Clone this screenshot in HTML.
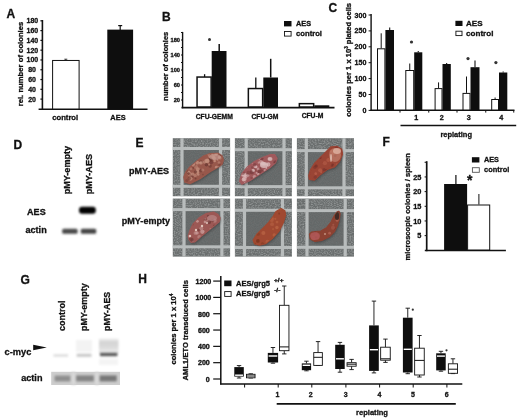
<!DOCTYPE html>
<html><head><meta charset="utf-8"><style>
html,body{margin:0;padding:0;background:#fff;width:520px;height:420px;overflow:hidden}
svg{will-change:transform;display:block;font-family:"Liberation Sans",sans-serif}
text{stroke:#111;stroke-width:0.3px;paint-order:stroke}
</style></head><body>
<svg width="520" height="420" viewBox="0 0 520 420">
<text x="6.60" y="18.40" font-size="12" text-anchor="start" font-weight="bold" fill="#111">A</text>
<text transform="translate(22.60,64.00) rotate(-90)" font-size="7.7" text-anchor="middle" font-weight="bold" fill="#111" textLength="84.60" lengthAdjust="spacingAndGlyphs">rel. number of colonies</text>
<text x="32.10" y="101.61" font-size="7.0" text-anchor="middle" font-weight="bold" fill="#111">20</text>
<line x1="40.40" y1="99.11" x2="42.40" y2="99.11" stroke="#111" stroke-width="1.2"/>
<text x="32.10" y="91.82" font-size="7.0" text-anchor="middle" font-weight="bold" fill="#111">40</text>
<line x1="40.40" y1="89.32" x2="42.40" y2="89.32" stroke="#111" stroke-width="1.2"/>
<text x="32.10" y="82.04" font-size="7.0" text-anchor="middle" font-weight="bold" fill="#111">60</text>
<line x1="40.40" y1="79.54" x2="42.40" y2="79.54" stroke="#111" stroke-width="1.2"/>
<text x="32.10" y="72.25" font-size="7.0" text-anchor="middle" font-weight="bold" fill="#111">80</text>
<line x1="40.40" y1="69.75" x2="42.40" y2="69.75" stroke="#111" stroke-width="1.2"/>
<text x="32.40" y="62.46" font-size="7.0" text-anchor="middle" font-weight="bold" fill="#111">100</text>
<line x1="40.40" y1="59.96" x2="42.40" y2="59.96" stroke="#111" stroke-width="1.2"/>
<text x="32.40" y="52.67" font-size="7.0" text-anchor="middle" font-weight="bold" fill="#111">120</text>
<line x1="40.40" y1="50.17" x2="42.40" y2="50.17" stroke="#111" stroke-width="1.2"/>
<text x="32.40" y="42.88" font-size="7.0" text-anchor="middle" font-weight="bold" fill="#111">140</text>
<line x1="40.40" y1="40.38" x2="42.40" y2="40.38" stroke="#111" stroke-width="1.2"/>
<text x="32.40" y="33.10" font-size="7.0" text-anchor="middle" font-weight="bold" fill="#111">160</text>
<line x1="40.40" y1="30.60" x2="42.40" y2="30.60" stroke="#111" stroke-width="1.2"/>
<text x="32.40" y="23.31" font-size="7.0" text-anchor="middle" font-weight="bold" fill="#111">180</text>
<line x1="40.40" y1="20.81" x2="42.40" y2="20.81" stroke="#111" stroke-width="1.2"/>
<line x1="42.40" y1="20.00" x2="42.40" y2="109.60" stroke="#111" stroke-width="1.6"/>
<line x1="38.60" y1="109.20" x2="147.50" y2="109.20" stroke="#111" stroke-width="1.6"/>
<rect x="52.60" y="60.46" width="26.50" height="48.54" fill="#fff" stroke="#111" stroke-width="1.0"/>
<line x1="65.80" y1="59.20" x2="65.80" y2="60.00" stroke="#111" stroke-width="0.8"/>
<line x1="64.30" y1="59.20" x2="67.30" y2="59.20" stroke="#111" stroke-width="0.8"/>
<rect x="107.30" y="29.62" width="25.80" height="79.38" fill="#0e0e0e"/>
<line x1="120.20" y1="25.60" x2="120.20" y2="30.00" stroke="#111" stroke-width="1.2"/>
<line x1="118.20" y1="25.60" x2="122.20" y2="25.60" stroke="#111" stroke-width="1.2"/>
<text x="65.20" y="120.20" font-size="7.7" text-anchor="middle" font-weight="bold" fill="#111" textLength="26.00" lengthAdjust="spacingAndGlyphs">control</text>
<text x="118.00" y="120.20" font-size="7.7" text-anchor="middle" font-weight="bold" fill="#111" textLength="15.30" lengthAdjust="spacingAndGlyphs">AES</text>
<text x="162.05" y="20.80" font-size="12" text-anchor="start" font-weight="bold" fill="#111">B</text>
<text transform="translate(168.00,66.25) rotate(-90)" font-size="7.47" text-anchor="middle" font-weight="bold" fill="#111" textLength="68.90" lengthAdjust="spacingAndGlyphs">number of colonies</text>
<text x="180.00" y="102.00" font-size="5.7" text-anchor="end" font-weight="bold" fill="#111">20</text>
<line x1="181.00" y1="100.00" x2="182.60" y2="100.00" stroke="#111" stroke-width="1.0"/>
<line x1="181.00" y1="92.50" x2="182.60" y2="92.50" stroke="#111" stroke-width="1.0"/>
<text x="180.00" y="87.00" font-size="5.7" text-anchor="end" font-weight="bold" fill="#111">60</text>
<line x1="181.00" y1="85.00" x2="182.60" y2="85.00" stroke="#111" stroke-width="1.0"/>
<line x1="181.00" y1="77.50" x2="182.60" y2="77.50" stroke="#111" stroke-width="1.0"/>
<text x="180.00" y="72.00" font-size="5.7" text-anchor="end" font-weight="bold" fill="#111">100</text>
<line x1="181.00" y1="70.00" x2="182.60" y2="70.00" stroke="#111" stroke-width="1.0"/>
<line x1="181.00" y1="62.50" x2="182.60" y2="62.50" stroke="#111" stroke-width="1.0"/>
<text x="180.00" y="57.00" font-size="5.7" text-anchor="end" font-weight="bold" fill="#111">140</text>
<line x1="181.00" y1="55.00" x2="182.60" y2="55.00" stroke="#111" stroke-width="1.0"/>
<line x1="181.00" y1="47.50" x2="182.60" y2="47.50" stroke="#111" stroke-width="1.0"/>
<text x="180.00" y="42.00" font-size="5.7" text-anchor="end" font-weight="bold" fill="#111">180</text>
<line x1="181.00" y1="40.00" x2="182.60" y2="40.00" stroke="#111" stroke-width="1.0"/>
<line x1="181.00" y1="32.50" x2="182.60" y2="32.50" stroke="#111" stroke-width="1.0"/>
<line x1="182.60" y1="31.90" x2="182.60" y2="108.20" stroke="#111" stroke-width="1.4"/>
<line x1="181.50" y1="107.60" x2="334.50" y2="107.60" stroke="#111" stroke-width="1.6"/>
<rect x="197.05" y="77.05" width="14.10" height="29.95" fill="#fff" stroke="#111" stroke-width="1.5"/>
<line x1="204.60" y1="74.20" x2="204.60" y2="77.00" stroke="#111" stroke-width="1.3"/>
<line x1="204.60" y1="74.20" x2="204.60" y2="74.20" stroke="#111" stroke-width="1.3"/>
<rect x="211.70" y="51.00" width="14.80" height="56.00" fill="#0e0e0e"/>
<line x1="219.20" y1="44.00" x2="219.20" y2="51.00" stroke="#111" stroke-width="1.5"/>
<line x1="219.20" y1="44.00" x2="219.20" y2="44.00" stroke="#111" stroke-width="1.5"/>
<rect x="248.35" y="88.55" width="14.30" height="18.45" fill="#fff" stroke="#111" stroke-width="1.5"/>
<line x1="255.80" y1="77.50" x2="255.80" y2="88.00" stroke="#111" stroke-width="1.3"/>
<line x1="255.80" y1="77.50" x2="255.80" y2="77.50" stroke="#111" stroke-width="1.3"/>
<rect x="263.30" y="77.50" width="14.70" height="29.50" fill="#0e0e0e"/>
<line x1="270.70" y1="58.80" x2="270.70" y2="77.50" stroke="#111" stroke-width="1.5"/>
<line x1="270.70" y1="58.80" x2="270.70" y2="58.80" stroke="#111" stroke-width="1.5"/>
<rect x="299.35" y="103.65" width="14.30" height="3.35" fill="#fff" stroke="#111" stroke-width="1.5"/>
<rect x="314.30" y="105.30" width="15.00" height="1.70" fill="#0e0e0e"/>
<circle cx="209.5" cy="39.5" r="1.5" fill="#333"/>
<text x="214.30" y="119.00" font-size="6.75" text-anchor="middle" font-weight="bold" fill="#111" textLength="37.10" lengthAdjust="spacingAndGlyphs">CFU-GEMM</text>
<text x="265.00" y="118.60" font-size="6.75" text-anchor="middle" font-weight="bold" fill="#111">CFU-GM</text>
<text x="312.50" y="118.20" font-size="6.75" text-anchor="middle" font-weight="bold" fill="#111">CFU-M</text>
<rect x="284.00" y="21.00" width="7.50" height="5.40" fill="#0e0e0e"/>
<text x="296.00" y="25.80" font-size="7.3" text-anchor="start" font-weight="bold" fill="#111" textLength="15.10" lengthAdjust="spacingAndGlyphs">AES</text>
<rect x="284.50" y="31.50" width="6.60" height="4.60" fill="#fff" stroke="#111" stroke-width="0.9"/>
<text x="296.00" y="35.80" font-size="7.7" text-anchor="start" font-weight="bold" fill="#111" textLength="26.00" lengthAdjust="spacingAndGlyphs">control</text>
<text x="328.60" y="11.50" font-size="12" text-anchor="start" font-weight="bold" fill="#111">C</text>
<text x="366.40" y="112.90" font-size="7.1" text-anchor="end" font-weight="bold" fill="#111">0</text>
<line x1="368.60" y1="110.40" x2="371.10" y2="110.40" stroke="#111" stroke-width="1.0"/>
<text x="366.40" y="97.00" font-size="7.1" text-anchor="end" font-weight="bold" fill="#111">50</text>
<line x1="368.60" y1="94.50" x2="371.10" y2="94.50" stroke="#111" stroke-width="1.0"/>
<text x="366.40" y="81.10" font-size="7.1" text-anchor="end" font-weight="bold" fill="#111">100</text>
<line x1="368.60" y1="78.60" x2="371.10" y2="78.60" stroke="#111" stroke-width="1.0"/>
<text x="366.40" y="65.20" font-size="7.1" text-anchor="end" font-weight="bold" fill="#111">150</text>
<line x1="368.60" y1="62.70" x2="371.10" y2="62.70" stroke="#111" stroke-width="1.0"/>
<text x="366.40" y="49.30" font-size="7.1" text-anchor="end" font-weight="bold" fill="#111">200</text>
<line x1="368.60" y1="46.80" x2="371.10" y2="46.80" stroke="#111" stroke-width="1.0"/>
<text x="366.40" y="33.40" font-size="7.1" text-anchor="end" font-weight="bold" fill="#111">250</text>
<line x1="368.60" y1="30.90" x2="371.10" y2="30.90" stroke="#111" stroke-width="1.0"/>
<text x="366.40" y="17.50" font-size="7.1" text-anchor="end" font-weight="bold" fill="#111">300</text>
<line x1="368.60" y1="15.00" x2="371.10" y2="15.00" stroke="#111" stroke-width="1.0"/>
<line x1="371.10" y1="14.00" x2="371.10" y2="110.90" stroke="#111" stroke-width="1.4"/>
<line x1="370.50" y1="110.30" x2="514.50" y2="110.30" stroke="#111" stroke-width="1.5"/>
<line x1="400.00" y1="110.30" x2="400.00" y2="112.60" stroke="#111" stroke-width="1.0"/>
<line x1="428.75" y1="110.30" x2="428.75" y2="112.60" stroke="#111" stroke-width="1.0"/>
<line x1="457.00" y1="110.30" x2="457.00" y2="112.60" stroke="#111" stroke-width="1.0"/>
<line x1="485.75" y1="110.30" x2="485.75" y2="112.60" stroke="#111" stroke-width="1.0"/>
<line x1="513.75" y1="110.30" x2="513.75" y2="112.60" stroke="#111" stroke-width="1.0"/>
<rect x="377.50" y="48.80" width="7.40" height="61.20" fill="#fff" stroke="#111" stroke-width="1.0"/>
<line x1="381.20" y1="33.30" x2="381.20" y2="48.30" stroke="#111" stroke-width="1.0"/>
<line x1="381.20" y1="33.30" x2="381.20" y2="33.30" stroke="#111" stroke-width="1.0"/>
<rect x="385.40" y="30.00" width="8.60" height="80.00" fill="#0e0e0e"/>
<line x1="389.70" y1="27.50" x2="389.70" y2="30.00" stroke="#111" stroke-width="1.1"/>
<line x1="389.70" y1="27.50" x2="389.70" y2="27.50" stroke="#111" stroke-width="1.1"/>
<rect x="405.80" y="70.50" width="7.90" height="39.50" fill="#fff" stroke="#111" stroke-width="1.0"/>
<line x1="409.75" y1="63.50" x2="409.75" y2="70.00" stroke="#111" stroke-width="1.0"/>
<line x1="409.75" y1="63.50" x2="409.75" y2="63.50" stroke="#111" stroke-width="1.0"/>
<rect x="414.20" y="52.30" width="8.10" height="57.70" fill="#0e0e0e"/>
<line x1="418.25" y1="51.00" x2="418.25" y2="52.30" stroke="#111" stroke-width="1.1"/>
<line x1="418.25" y1="51.00" x2="418.25" y2="51.00" stroke="#111" stroke-width="1.1"/>
<rect x="435.10" y="88.60" width="6.90" height="21.40" fill="#fff" stroke="#111" stroke-width="1.0"/>
<line x1="438.55" y1="82.40" x2="438.55" y2="88.10" stroke="#111" stroke-width="1.0"/>
<line x1="438.55" y1="82.40" x2="438.55" y2="82.40" stroke="#111" stroke-width="1.0"/>
<rect x="442.50" y="64.00" width="8.30" height="46.00" fill="#0e0e0e"/>
<line x1="446.65" y1="63.00" x2="446.65" y2="64.00" stroke="#111" stroke-width="1.1"/>
<line x1="446.65" y1="63.00" x2="446.65" y2="63.00" stroke="#111" stroke-width="1.1"/>
<rect x="463.00" y="93.40" width="7.00" height="16.60" fill="#fff" stroke="#111" stroke-width="1.0"/>
<line x1="466.50" y1="76.50" x2="466.50" y2="92.90" stroke="#111" stroke-width="1.0"/>
<line x1="466.50" y1="76.50" x2="466.50" y2="76.50" stroke="#111" stroke-width="1.0"/>
<rect x="470.50" y="67.20" width="9.00" height="42.80" fill="#0e0e0e"/>
<line x1="475.00" y1="60.40" x2="475.00" y2="67.20" stroke="#111" stroke-width="1.1"/>
<line x1="475.00" y1="60.40" x2="475.00" y2="60.40" stroke="#111" stroke-width="1.1"/>
<rect x="491.70" y="99.50" width="6.80" height="10.50" fill="#fff" stroke="#111" stroke-width="1.0"/>
<line x1="495.10" y1="97.50" x2="495.10" y2="99.00" stroke="#111" stroke-width="1.0"/>
<line x1="495.10" y1="97.50" x2="495.10" y2="97.50" stroke="#111" stroke-width="1.0"/>
<rect x="499.00" y="72.50" width="8.30" height="37.50" fill="#0e0e0e"/>
<line x1="503.15" y1="71.50" x2="503.15" y2="72.50" stroke="#111" stroke-width="1.1"/>
<line x1="503.15" y1="71.50" x2="503.15" y2="71.50" stroke="#111" stroke-width="1.1"/>
<circle cx="411.5" cy="42.0" r="1.6" fill="#333"/>
<circle cx="468.0" cy="58.6" r="1.6" fill="#333"/>
<circle cx="495.9" cy="62.6" r="1.6" fill="#333"/>
<text x="416.25" y="120.20" font-size="7.2" text-anchor="middle" font-weight="bold" fill="#111">1</text>
<text x="441.75" y="120.20" font-size="7.2" text-anchor="middle" font-weight="bold" fill="#111">2</text>
<text x="468.75" y="120.20" font-size="7.2" text-anchor="middle" font-weight="bold" fill="#111">3</text>
<text x="501.25" y="120.20" font-size="7.2" text-anchor="middle" font-weight="bold" fill="#111">4</text>
<line x1="400.50" y1="125.50" x2="516.20" y2="125.50" stroke="#111" stroke-width="1.5"/>
<text x="456.20" y="136.90" font-size="7.5" text-anchor="middle" font-weight="bold" fill="#111" textLength="31.60" lengthAdjust="spacingAndGlyphs">replating</text>
<text transform="translate(351.00,59.80) rotate(-90)" font-size="7.6" text-anchor="middle" font-weight="bold" fill="#111" textLength="113.80" lengthAdjust="spacingAndGlyphs">colonies per 1 x 10<tspan dy="-3" font-size="4.6">3</tspan><tspan dy="3"> plated cells</tspan></text>
<rect x="455.40" y="20.80" width="7.10" height="5.20" fill="#0e0e0e"/>
<text x="466.00" y="25.90" font-size="8.0" text-anchor="start" font-weight="bold" fill="#111" textLength="16.60" lengthAdjust="spacingAndGlyphs">AES</text>
<rect x="455.90" y="31.20" width="6.10" height="4.40" fill="#fff" stroke="#111" stroke-width="0.9"/>
<text x="466.00" y="35.80" font-size="8.0" text-anchor="start" font-weight="bold" fill="#111" textLength="27.40" lengthAdjust="spacingAndGlyphs">control</text>
<defs>
<filter id="bl1" x="-30%" y="-60%" width="160%" height="220%"><feGaussianBlur stdDeviation="0.9"/></filter>
<filter id="bl2" x="-30%" y="-80%" width="160%" height="260%"><feGaussianBlur stdDeviation="1.6"/></filter>
<filter id="bl05" x="-10%" y="-10%" width="120%" height="120%"><feGaussianBlur stdDeviation="0.5"/></filter>
<filter id="bl04" x="0" y="0" width="100%" height="100%"><feGaussianBlur stdDeviation="0.4"/></filter>
<filter id="tex2" x="0" y="0" width="100%" height="100%">
 <feTurbulence type="fractalNoise" baseFrequency="0.7 0.9" numOctaves="2" seed="7" result="n"/>
 <feColorMatrix in="n" type="matrix" values="0 0 0 0 0  0 0 0 0 0  0 0 0 0 0  0 0 0 -2.4 1.5" result="a"/>
 <feComposite in="SourceGraphic" in2="a" operator="in"/>
</filter>
<filter id="tex" x="0" y="0" width="100%" height="100%">
 <feTurbulence type="fractalNoise" baseFrequency="0.9" numOctaves="2" seed="3" result="n"/>
 <feColorMatrix in="n" type="matrix" values="0 0 0 0 0  0 0 0 0 0  0 0 0 0 0  0 0 0 -1.6 1.1" result="a"/>
 <feComposite in="SourceGraphic" in2="a" operator="in"/>
</filter>
</defs>
<text x="13.50" y="148.60" font-size="12" text-anchor="start" font-weight="bold" fill="#111">D</text>
<text transform="translate(69.80,194.30) rotate(-90)" font-size="9.0" text-anchor="start" font-weight="bold" fill="#111" textLength="48.40" lengthAdjust="spacingAndGlyphs">pMY-empty</text>
<text transform="translate(91.60,194.30) rotate(-90)" font-size="9.0" text-anchor="start" font-weight="bold" fill="#111" textLength="40.30" lengthAdjust="spacingAndGlyphs">pMY-AES</text>
<text x="27.10" y="214.90" font-size="9.2" text-anchor="start" font-weight="bold" fill="#111" textLength="18.60" lengthAdjust="spacingAndGlyphs">AES</text>
<text x="25.50" y="232.60" font-size="9.1" text-anchor="start" font-weight="bold" fill="#111" textLength="21.20" lengthAdjust="spacingAndGlyphs">actin</text>
<rect x="79.0" y="206.7" width="16.8" height="7.0" rx="3" fill="#000" filter="url(#bl1)"/>
<rect x="62.2" y="228.7" width="15.4" height="5.0" rx="1.5" fill="#484848" filter="url(#bl1)"/>
<rect x="80.8" y="228.7" width="15.4" height="5.0" rx="1.5" fill="#444" filter="url(#bl1)"/>
<text x="20.50" y="283.50" font-size="12" text-anchor="start" font-weight="bold" fill="#111">G</text>
<text transform="translate(65.20,331.00) rotate(-90)" font-size="9.0" text-anchor="start" font-weight="bold" fill="#111" textLength="30.60" lengthAdjust="spacingAndGlyphs">control</text>
<text transform="translate(86.70,331.00) rotate(-90)" font-size="9.0" text-anchor="start" font-weight="bold" fill="#111" textLength="47.60" lengthAdjust="spacingAndGlyphs">pMY-empty</text>
<text transform="translate(110.30,331.00) rotate(-90)" font-size="9.0" text-anchor="start" font-weight="bold" fill="#111" textLength="39.20" lengthAdjust="spacingAndGlyphs">pMY-AES</text>
<text x="4.50" y="355.00" font-size="9.2" text-anchor="start" font-weight="bold" fill="#111" textLength="26.80" lengthAdjust="spacingAndGlyphs">c-myc</text>
<path d="M33.2 344.8 L46.8 347.6 L33.2 350.3 Z" fill="#111"/>
<text x="21.20" y="380.60" font-size="9.1" text-anchor="start" font-weight="bold" fill="#111" textLength="21.30" lengthAdjust="spacingAndGlyphs">actin</text>
<linearGradient id="smg" x1="0" y1="0" x2="0" y2="1"><stop offset="0" stop-color="#f0f0f0"/><stop offset="0.25" stop-color="#d4d4d4"/><stop offset="0.55" stop-color="#dadada"/><stop offset="0.85" stop-color="#e8e8e8"/><stop offset="1" stop-color="#e0e0e0"/></linearGradient>
<rect x="99" y="338.5" width="19.5" height="15" fill="url(#smg)" filter="url(#bl1)"/>
<rect x="99" y="359" width="19" height="6" fill="#f4f4f4" filter="url(#bl1)"/>
<rect x="76" y="340" width="16" height="12" fill="#f3f3f3" filter="url(#bl1)"/>
<rect x="53.5" y="354.2" width="14.6" height="2.6" fill="#dedede" filter="url(#bl1)"/>
<rect x="76.7" y="353.8" width="14.8" height="3.0" fill="#c8c8c8" filter="url(#bl1)"/>
<rect x="100.0" y="352.8" width="17.4" height="3.4" fill="#5a5a5a" filter="url(#bl1)"/>
<rect x="51.2" y="371.8" width="68.8" height="13.2" fill="#cdcdcd" filter="url(#bl05)"/>
<rect x="71.5" y="372" width="4" height="13" fill="#d8d8d8" filter="url(#bl1)"/>
<rect x="95" y="372" width="4" height="13" fill="#d8d8d8" filter="url(#bl1)"/>
<rect x="54.6" y="375.6" width="15.7" height="5.8" fill="#8e8e8e" filter="url(#bl1)"/>
<rect x="76.2" y="375.4" width="17.6" height="6.0" fill="#848484" filter="url(#bl1)"/>
<rect x="99.7" y="375.4" width="17.0" height="6.0" fill="#787878" filter="url(#bl1)"/>
<text x="135.40" y="147.40" font-size="12" text-anchor="start" font-weight="bold" fill="#111">E</text>
<text x="129.00" y="174.20" font-size="9.0" text-anchor="start" font-weight="bold" fill="#111" textLength="40.10" lengthAdjust="spacingAndGlyphs">pMY-AES</text>
<text x="121.80" y="223.80" font-size="9.0" text-anchor="start" font-weight="bold" fill="#111" textLength="48.20" lengthAdjust="spacingAndGlyphs">pMY-empty</text>
<g filter="url(#bl04)"><rect x="172.8" y="138.2" width="57.3" height="58.0" fill="#6a6e6e"/>
<rect x="172.8" y="138.2" width="57.3" height="58.0" fill="#a8acac" filter="url(#tex2)" opacity="0.6"/>
<rect x="182.00" y="148.50" width="38.50" height="37.80" fill="#646868"/>
<rect x="182.0" y="148.5" width="38.5" height="37.80000000000001" fill="#7c8080" filter="url(#tex)" opacity="0.4"/>
<rect x="180.40" y="138.20" width="3.20" height="58.00" fill="#b8bcbc"/>
<rect x="218.90" y="138.20" width="3.20" height="58.00" fill="#b8bcbc"/>
<rect x="172.80" y="147.00" width="57.30" height="3.00" fill="#b8bcbc"/>
<rect x="172.80" y="184.80" width="57.30" height="3.00" fill="#b8bcbc"/>
<clipPath id="sp0"><path d="M184.0 177.0 L185.0 182.0 L190.0 183.5 L200.0 178.5 L210.0 171.5 L218.0 167.0 L222.0 164.0 L223.2 160.0 L222.0 156.0 L218.0 153.5 L210.0 153.8 L204.0 156.0 L196.0 162.0 L190.0 167.0 L186.0 172.0 Z"/></clipPath>
<path d="M184.0 177.0 L185.0 182.0 L190.0 183.5 L200.0 178.5 L210.0 171.5 L218.0 167.0 L222.0 164.0 L223.2 160.0 L222.0 156.0 L218.0 153.5 L210.0 153.8 L204.0 156.0 L196.0 162.0 L190.0 167.0 L186.0 172.0 Z" fill="#2a2c2c" opacity="0.5" transform="translate(1.0,1.6)" filter="url(#bl1)"/>
<path d="M184.0 177.0 L185.0 182.0 L190.0 183.5 L200.0 178.5 L210.0 171.5 L218.0 167.0 L222.0 164.0 L223.2 160.0 L222.0 156.0 L218.0 153.5 L210.0 153.8 L204.0 156.0 L196.0 162.0 L190.0 167.0 L186.0 172.0 Z" fill="#98584c" stroke="#98584c" stroke-width="1.6" stroke-linejoin="round"/>
<g clip-path="url(#sp0)"><g filter="url(#bl05)">
<circle cx="208.4" cy="175.8" r="1.93" fill="#6e3a32" opacity="0.75"/>
<circle cx="220.2" cy="154.4" r="1.51" fill="#6e3a32" opacity="0.71"/>
<circle cx="219.3" cy="156.9" r="1.51" fill="#c4907e" opacity="0.67"/>
<circle cx="206.5" cy="153.9" r="1.18" fill="#c4907e" opacity="0.82"/>
<circle cx="214.0" cy="158.3" r="1.94" fill="#c4907e" opacity="0.70"/>
<circle cx="189.0" cy="153.6" r="2.03" fill="#c4907e" opacity="0.54"/>
<circle cx="222.5" cy="179.7" r="1.28" fill="#6e3a32" opacity="0.67"/>
<circle cx="210.6" cy="159.6" r="2.12" fill="#6e3a32" opacity="0.84"/>
<circle cx="219.0" cy="162.5" r="1.37" fill="#c4907e" opacity="0.51"/>
<circle cx="186.6" cy="162.5" r="1.68" fill="#c4907e" opacity="0.72"/>
<circle cx="197.2" cy="162.8" r="1.96" fill="#c4907e" opacity="0.58"/>
<circle cx="202.9" cy="174.6" r="0.97" fill="#6e3a32" opacity="0.46"/>
<circle cx="213.4" cy="178.8" r="0.92" fill="#6e3a32" opacity="0.60"/>
<circle cx="206.7" cy="153.8" r="0.96" fill="#c4907e" opacity="0.83"/>
<circle cx="191.7" cy="176.2" r="2.11" fill="#6e3a32" opacity="0.59"/>
<circle cx="197.9" cy="169.2" r="1.91" fill="#c4907e" opacity="0.75"/>
<circle cx="215.3" cy="179.3" r="0.95" fill="#6e3a32" opacity="0.49"/>
<circle cx="197.4" cy="171.8" r="2.09" fill="#c4907e" opacity="0.82"/>
<circle cx="205.4" cy="162.9" r="1.31" fill="#c4907e" opacity="0.48"/>
<circle cx="189.8" cy="174.2" r="2.20" fill="#c4907e" opacity="0.47"/>
<circle cx="222.7" cy="169.5" r="1.43" fill="#c4907e" opacity="0.69"/>
<circle cx="216.4" cy="167.2" r="1.45" fill="#c4907e" opacity="0.82"/>
<circle cx="185.3" cy="168.3" r="1.99" fill="#c4907e" opacity="0.74"/>
<circle cx="221.2" cy="172.4" r="1.92" fill="#c4907e" opacity="0.62"/>
<circle cx="189.9" cy="178.8" r="1.28" fill="#c4907e" opacity="0.85"/>
<circle cx="217.4" cy="182.8" r="1.49" fill="#c4907e" opacity="0.74"/>
<circle cx="202.8" cy="162.2" r="1.42" fill="#c4907e" opacity="0.60"/>
<circle cx="222.7" cy="182.3" r="1.72" fill="#c4907e" opacity="0.59"/>
<circle cx="187.5" cy="161.7" r="1.92" fill="#6e3a32" opacity="0.59"/>
<circle cx="214.8" cy="176.7" r="1.80" fill="#6e3a32" opacity="0.75"/>
<circle cx="198.2" cy="174.6" r="1.27" fill="#c4907e" opacity="0.76"/>
<circle cx="211.1" cy="162.3" r="2.13" fill="#6e3a32" opacity="0.68"/>
<circle cx="184.5" cy="169.9" r="1.23" fill="#6e3a32" opacity="0.64"/>
<circle cx="216.0" cy="172.9" r="1.94" fill="#c4907e" opacity="0.71"/>
<circle cx="212.9" cy="178.3" r="1.36" fill="#6e3a32" opacity="0.80"/>
<circle cx="211.0" cy="182.8" r="2.14" fill="#c4907e" opacity="0.66"/>
<circle cx="190.5" cy="178.6" r="2.12" fill="#c4907e" opacity="0.73"/>
<circle cx="212.2" cy="175.4" r="1.12" fill="#6e3a32" opacity="0.68"/>
<circle cx="210.1" cy="166.1" r="1.71" fill="#6e3a32" opacity="0.70"/>
<circle cx="212.2" cy="154.3" r="1.11" fill="#c4907e" opacity="0.71"/>
<circle cx="192.6" cy="174.1" r="1.72" fill="#c4907e" opacity="0.64"/>
<circle cx="192.9" cy="155.1" r="1.07" fill="#c4907e" opacity="0.52"/>
<circle cx="191.6" cy="154.6" r="1.50" fill="#c4907e" opacity="0.69"/>
<circle cx="207.1" cy="160.6" r="2.07" fill="#c4907e" opacity="0.61"/>
<circle cx="194.9" cy="165.8" r="1.05" fill="#6e3a32" opacity="0.60"/>
<circle cx="185.4" cy="171.9" r="1.02" fill="#c4907e" opacity="0.59"/>
<circle cx="206.8" cy="182.2" r="1.96" fill="#c4907e" opacity="0.78"/>
<circle cx="209.2" cy="164.6" r="1.08" fill="#c4907e" opacity="0.68"/>
<circle cx="221.5" cy="182.5" r="1.69" fill="#c4907e" opacity="0.81"/>
<circle cx="184.0" cy="156.7" r="1.64" fill="#6e3a32" opacity="0.51"/>
<circle cx="208.7" cy="180.2" r="1.39" fill="#c4907e" opacity="0.54"/>
<circle cx="195.4" cy="182.7" r="1.39" fill="#6e3a32" opacity="0.82"/>
<circle cx="207.4" cy="161.3" r="2.18" fill="#c4907e" opacity="0.62"/>
<circle cx="196.5" cy="183.0" r="1.54" fill="#c4907e" opacity="0.64"/>
<circle cx="188.8" cy="172.2" r="1.48" fill="#c4907e" opacity="0.76"/>
<circle cx="216.4" cy="153.9" r="1.59" fill="#c4907e" opacity="0.82"/>
<circle cx="214.7" cy="160.9" r="1.25" fill="#c4907e" opacity="0.85"/>
<circle cx="195.5" cy="171.7" r="1.52" fill="#6e3a32" opacity="0.69"/>
<circle cx="213.1" cy="157.0" r="1.89" fill="#c4907e" opacity="0.66"/>
<circle cx="197.2" cy="162.4" r="1.59" fill="#c4907e" opacity="0.59"/>
<circle cx="213.2" cy="171.2" r="0.95" fill="#c4907e" opacity="0.63"/>
<circle cx="219.9" cy="180.1" r="1.61" fill="#c4907e" opacity="0.76"/>
<circle cx="200.8" cy="170.8" r="1.82" fill="#6e3a32" opacity="0.64"/>
<circle cx="219.7" cy="165.1" r="1.41" fill="#6e3a32" opacity="0.53"/>
<circle cx="195.6" cy="178.4" r="0.99" fill="#6e3a32" opacity="0.73"/>
<circle cx="201.0" cy="162.1" r="1.91" fill="#6e3a32" opacity="0.51"/>
<circle cx="202.8" cy="170.0" r="1.55" fill="#c4907e" opacity="0.51"/>
<circle cx="207.0" cy="177.9" r="0.99" fill="#c4907e" opacity="0.78"/>
<circle cx="215.0" cy="173.4" r="0.93" fill="#6e3a32" opacity="0.84"/>
<circle cx="223.1" cy="174.5" r="0.96" fill="#6e3a32" opacity="0.54"/>
<circle cx="209.3" cy="182.1" r="1.83" fill="#c4907e" opacity="0.57"/>
<circle cx="220.0" cy="158.0" r="1.69" fill="#c4907e" opacity="0.51"/>
<circle cx="208.4" cy="154.8" r="1.04" fill="#c4907e" opacity="0.48"/>
<circle cx="186.3" cy="170.8" r="1.87" fill="#6e3a32" opacity="0.50"/>
<circle cx="200.9" cy="162.9" r="1.68" fill="#c4907e" opacity="0.83"/>
<circle cx="198.7" cy="155.2" r="1.81" fill="#c4907e" opacity="0.70"/>
<circle cx="203.8" cy="180.8" r="1.62" fill="#6e3a32" opacity="0.56"/>
<circle cx="205.6" cy="161.1" r="1.88" fill="#c4907e" opacity="0.50"/>
<circle cx="193.2" cy="164.6" r="1.86" fill="#c4907e" opacity="0.74"/>
<circle cx="209.7" cy="156.1" r="1.77" fill="#c4907e" opacity="0.50"/>
<circle cx="207.3" cy="160.7" r="2.04" fill="#c4907e" opacity="0.58"/>
<circle cx="215.2" cy="154.4" r="1.84" fill="#c4907e" opacity="0.51"/>
<circle cx="221.3" cy="173.9" r="1.19" fill="#c4907e" opacity="0.84"/>
<circle cx="210.1" cy="178.1" r="1.08" fill="#6e3a32" opacity="0.59"/>
<circle cx="193.2" cy="163.5" r="1.70" fill="#c4907e" opacity="0.60"/>
<circle cx="189.3" cy="178.4" r="1.74" fill="#6e3a32" opacity="0.62"/>
<circle cx="217.4" cy="169.0" r="1.67" fill="#c4907e" opacity="0.75"/>
<circle cx="199.5" cy="156.4" r="0.94" fill="#c4907e" opacity="0.47"/>
<circle cx="218.9" cy="167.9" r="1.89" fill="#c4907e" opacity="0.64"/>
<circle cx="218.9" cy="172.1" r="1.46" fill="#c4907e" opacity="0.49"/>
<circle cx="190.1" cy="158.3" r="1.39" fill="#c4907e" opacity="0.80"/>
<circle cx="190.0" cy="161.1" r="1.26" fill="#c4907e" opacity="0.56"/>
<circle cx="193.2" cy="168.0" r="0.94" fill="#6e3a32" opacity="0.60"/>
<circle cx="220.8" cy="174.1" r="1.78" fill="#c4907e" opacity="0.83"/>
<circle cx="188.6" cy="173.6" r="1.28" fill="#6e3a32" opacity="0.74"/>
<circle cx="190.4" cy="159.5" r="0.93" fill="#c4907e" opacity="0.48"/>
<circle cx="199.7" cy="182.7" r="1.37" fill="#c4907e" opacity="0.64"/>
<circle cx="195.1" cy="175.5" r="1.83" fill="#c4907e" opacity="0.55"/>
<circle cx="210.3" cy="181.7" r="1.74" fill="#c4907e" opacity="0.84"/>
<circle cx="184.2" cy="155.3" r="1.91" fill="#c4907e" opacity="0.47"/>
<circle cx="205.5" cy="183.2" r="1.57" fill="#c4907e" opacity="0.49"/>
<circle cx="186.8" cy="180.5" r="1.54" fill="#6e3a32" opacity="0.47"/>
<circle cx="193.5" cy="155.0" r="1.42" fill="#c4907e" opacity="0.55"/>
<circle cx="200.0" cy="162.7" r="0.97" fill="#c4907e" opacity="0.84"/>
<circle cx="191.0" cy="168.8" r="1.42" fill="#c4907e" opacity="0.48"/>
<circle cx="196.3" cy="156.7" r="1.60" fill="#6e3a32" opacity="0.69"/>
<circle cx="217.6" cy="159.9" r="0.92" fill="#c4907e" opacity="0.64"/>
<circle cx="206.4" cy="164.8" r="1.71" fill="#6e3a32" opacity="0.82"/>
<circle cx="196.1" cy="167.0" r="1.97" fill="#c4907e" opacity="0.50"/>
<circle cx="196.2" cy="156.1" r="1.90" fill="#6e3a32" opacity="0.58"/>
<ellipse cx="215" cy="157" rx="6" ry="3" fill="#c8a098" opacity="0.6"/>
</g></g>
</g>
<g filter="url(#bl04)"><rect x="234.9" y="138.2" width="57.0" height="58.0" fill="#6a6e6e"/>
<rect x="234.9" y="138.2" width="57.0" height="58.0" fill="#a8acac" filter="url(#tex2)" opacity="0.6"/>
<rect x="246.20" y="149.70" width="37.80" height="36.90" fill="#646868"/>
<rect x="246.2" y="149.7" width="37.80000000000001" height="36.900000000000006" fill="#7c8080" filter="url(#tex)" opacity="0.4"/>
<rect x="244.60" y="138.20" width="3.20" height="58.00" fill="#b8bcbc"/>
<rect x="282.40" y="138.20" width="3.20" height="58.00" fill="#b8bcbc"/>
<rect x="234.90" y="148.20" width="57.00" height="3.00" fill="#b8bcbc"/>
<rect x="234.90" y="185.10" width="57.00" height="3.00" fill="#b8bcbc"/>
<clipPath id="sp1"><path d="M239.7 181.3 L241.9 184.1 L249.7 180.6 L259.7 174.1 L269.7 167.7 L275.4 162.7 L276.9 158.4 L274.7 154.9 L269.7 154.9 L262.6 157.7 L254.0 162.0 L246.9 167.7 L241.9 174.1 Z"/></clipPath>
<path d="M239.7 181.3 L241.9 184.1 L249.7 180.6 L259.7 174.1 L269.7 167.7 L275.4 162.7 L276.9 158.4 L274.7 154.9 L269.7 154.9 L262.6 157.7 L254.0 162.0 L246.9 167.7 L241.9 174.1 Z" fill="#2a2c2c" opacity="0.5" transform="translate(1.0,1.6)" filter="url(#bl1)"/>
<path d="M239.7 181.3 L241.9 184.1 L249.7 180.6 L259.7 174.1 L269.7 167.7 L275.4 162.7 L276.9 158.4 L274.7 154.9 L269.7 154.9 L262.6 157.7 L254.0 162.0 L246.9 167.7 L241.9 174.1 Z" fill="#a05a5c" stroke="#a05a5c" stroke-width="1.6" stroke-linejoin="round"/>
<g clip-path="url(#sp1)"><g filter="url(#bl05)">
<circle cx="246.4" cy="174.2" r="1.33" fill="#d8b4b4" opacity="0.65"/>
<circle cx="258.1" cy="168.9" r="1.50" fill="#d8b4b4" opacity="0.55"/>
<circle cx="265.4" cy="164.4" r="1.78" fill="#7a3e40" opacity="0.80"/>
<circle cx="274.8" cy="161.7" r="1.21" fill="#7a3e40" opacity="0.68"/>
<circle cx="247.2" cy="174.7" r="2.04" fill="#7a3e40" opacity="0.54"/>
<circle cx="250.8" cy="155.1" r="2.17" fill="#d8b4b4" opacity="0.74"/>
<circle cx="259.7" cy="172.2" r="1.58" fill="#7a3e40" opacity="0.69"/>
<circle cx="251.0" cy="158.3" r="1.52" fill="#7a3e40" opacity="0.51"/>
<circle cx="265.1" cy="173.3" r="1.11" fill="#d8b4b4" opacity="0.72"/>
<circle cx="256.0" cy="166.8" r="1.52" fill="#d8b4b4" opacity="0.73"/>
<circle cx="261.6" cy="170.5" r="1.34" fill="#7a3e40" opacity="0.78"/>
<circle cx="260.0" cy="157.5" r="1.09" fill="#d8b4b4" opacity="0.48"/>
<circle cx="263.8" cy="170.8" r="1.17" fill="#7a3e40" opacity="0.70"/>
<circle cx="269.2" cy="178.8" r="1.79" fill="#d8b4b4" opacity="0.84"/>
<circle cx="244.6" cy="175.0" r="2.05" fill="#d8b4b4" opacity="0.78"/>
<circle cx="246.4" cy="167.1" r="1.25" fill="#d8b4b4" opacity="0.73"/>
<circle cx="245.0" cy="164.8" r="2.00" fill="#d8b4b4" opacity="0.50"/>
<circle cx="276.7" cy="170.7" r="0.92" fill="#d8b4b4" opacity="0.51"/>
<circle cx="245.8" cy="176.5" r="1.75" fill="#d8b4b4" opacity="0.66"/>
<circle cx="260.5" cy="168.3" r="1.03" fill="#7a3e40" opacity="0.76"/>
<circle cx="255.4" cy="166.7" r="1.69" fill="#d8b4b4" opacity="0.62"/>
<circle cx="272.3" cy="181.3" r="1.10" fill="#d8b4b4" opacity="0.76"/>
<circle cx="275.3" cy="176.2" r="1.29" fill="#d8b4b4" opacity="0.78"/>
<circle cx="274.3" cy="177.1" r="1.86" fill="#7a3e40" opacity="0.66"/>
<circle cx="274.3" cy="162.6" r="1.00" fill="#7a3e40" opacity="0.73"/>
<circle cx="269.3" cy="158.7" r="1.29" fill="#d8b4b4" opacity="0.48"/>
<circle cx="251.9" cy="172.5" r="2.12" fill="#7a3e40" opacity="0.61"/>
<circle cx="254.9" cy="169.9" r="1.86" fill="#7a3e40" opacity="0.45"/>
<circle cx="274.1" cy="178.3" r="0.96" fill="#d8b4b4" opacity="0.56"/>
<circle cx="247.7" cy="159.6" r="1.08" fill="#7a3e40" opacity="0.63"/>
<circle cx="243.7" cy="179.5" r="1.99" fill="#d8b4b4" opacity="0.78"/>
<circle cx="268.6" cy="170.4" r="1.01" fill="#7a3e40" opacity="0.80"/>
<circle cx="272.7" cy="182.6" r="1.11" fill="#7a3e40" opacity="0.49"/>
<circle cx="253.2" cy="170.6" r="1.73" fill="#d8b4b4" opacity="0.81"/>
<circle cx="268.5" cy="180.0" r="1.78" fill="#d8b4b4" opacity="0.46"/>
<circle cx="263.8" cy="182.2" r="1.15" fill="#7a3e40" opacity="0.46"/>
<circle cx="254.5" cy="176.8" r="1.83" fill="#d8b4b4" opacity="0.56"/>
<circle cx="248.9" cy="159.0" r="1.74" fill="#d8b4b4" opacity="0.50"/>
<circle cx="266.4" cy="167.9" r="0.92" fill="#d8b4b4" opacity="0.82"/>
<circle cx="258.7" cy="162.7" r="1.08" fill="#d8b4b4" opacity="0.55"/>
<circle cx="249.9" cy="156.7" r="1.69" fill="#7a3e40" opacity="0.65"/>
<circle cx="262.5" cy="163.4" r="2.19" fill="#d8b4b4" opacity="0.82"/>
<circle cx="240.2" cy="174.2" r="2.03" fill="#d8b4b4" opacity="0.54"/>
<circle cx="245.9" cy="183.8" r="2.19" fill="#d8b4b4" opacity="0.61"/>
<circle cx="270.5" cy="180.2" r="0.94" fill="#d8b4b4" opacity="0.55"/>
<circle cx="242.8" cy="175.1" r="1.53" fill="#d8b4b4" opacity="0.75"/>
<circle cx="251.7" cy="162.6" r="1.29" fill="#d8b4b4" opacity="0.79"/>
<circle cx="252.0" cy="182.1" r="1.79" fill="#d8b4b4" opacity="0.81"/>
<circle cx="253.6" cy="155.9" r="1.75" fill="#d8b4b4" opacity="0.82"/>
<circle cx="275.9" cy="166.3" r="1.02" fill="#7a3e40" opacity="0.55"/>
<circle cx="275.7" cy="168.8" r="2.05" fill="#7a3e40" opacity="0.51"/>
<circle cx="252.1" cy="167.5" r="1.16" fill="#7a3e40" opacity="0.53"/>
<circle cx="248.5" cy="160.2" r="1.10" fill="#7a3e40" opacity="0.53"/>
<circle cx="261.6" cy="158.6" r="1.95" fill="#7a3e40" opacity="0.83"/>
<circle cx="241.7" cy="174.5" r="1.85" fill="#d8b4b4" opacity="0.73"/>
<circle cx="251.7" cy="172.0" r="2.01" fill="#7a3e40" opacity="0.58"/>
<circle cx="249.3" cy="182.7" r="1.20" fill="#d8b4b4" opacity="0.62"/>
<circle cx="253.3" cy="170.5" r="1.05" fill="#d8b4b4" opacity="0.72"/>
<circle cx="271.3" cy="169.2" r="1.20" fill="#d8b4b4" opacity="0.53"/>
<circle cx="245.2" cy="163.9" r="1.40" fill="#7a3e40" opacity="0.75"/>
<circle cx="274.0" cy="169.3" r="1.15" fill="#d8b4b4" opacity="0.73"/>
<circle cx="276.7" cy="161.6" r="1.89" fill="#7a3e40" opacity="0.61"/>
<circle cx="259.1" cy="158.0" r="1.77" fill="#d8b4b4" opacity="0.76"/>
<circle cx="267.8" cy="179.2" r="2.00" fill="#d8b4b4" opacity="0.80"/>
<circle cx="266.0" cy="182.6" r="2.07" fill="#d8b4b4" opacity="0.79"/>
<circle cx="247.1" cy="183.2" r="1.78" fill="#7a3e40" opacity="0.67"/>
<circle cx="261.0" cy="162.0" r="1.94" fill="#d8b4b4" opacity="0.54"/>
<circle cx="267.8" cy="171.9" r="1.46" fill="#7a3e40" opacity="0.62"/>
<circle cx="264.9" cy="170.7" r="1.38" fill="#d8b4b4" opacity="0.69"/>
<circle cx="246.5" cy="159.9" r="1.31" fill="#7a3e40" opacity="0.53"/>
<circle cx="268.3" cy="164.5" r="2.13" fill="#d8b4b4" opacity="0.79"/>
<circle cx="270.4" cy="179.1" r="1.72" fill="#d8b4b4" opacity="0.83"/>
<circle cx="248.0" cy="175.4" r="1.43" fill="#d8b4b4" opacity="0.62"/>
<circle cx="251.5" cy="177.9" r="1.17" fill="#7a3e40" opacity="0.46"/>
<circle cx="242.9" cy="173.1" r="2.11" fill="#7a3e40" opacity="0.51"/>
<circle cx="273.6" cy="174.5" r="0.91" fill="#d8b4b4" opacity="0.61"/>
<circle cx="259.4" cy="171.4" r="1.99" fill="#7a3e40" opacity="0.83"/>
<circle cx="254.8" cy="164.8" r="1.76" fill="#7a3e40" opacity="0.62"/>
<circle cx="241.5" cy="166.0" r="1.17" fill="#7a3e40" opacity="0.58"/>
<circle cx="256.6" cy="172.9" r="0.97" fill="#d8b4b4" opacity="0.66"/>
<circle cx="249.1" cy="156.7" r="1.87" fill="#7a3e40" opacity="0.70"/>
<circle cx="244.5" cy="178.7" r="2.19" fill="#d8b4b4" opacity="0.72"/>
<circle cx="241.6" cy="158.1" r="1.33" fill="#7a3e40" opacity="0.63"/>
<circle cx="259.8" cy="180.8" r="1.41" fill="#d8b4b4" opacity="0.48"/>
<circle cx="248.4" cy="172.8" r="2.05" fill="#7a3e40" opacity="0.55"/>
<circle cx="264.6" cy="164.2" r="1.63" fill="#d8b4b4" opacity="0.82"/>
<circle cx="268.7" cy="177.0" r="1.73" fill="#d8b4b4" opacity="0.79"/>
<circle cx="258.5" cy="174.3" r="1.25" fill="#d8b4b4" opacity="0.74"/>
<circle cx="251.4" cy="156.2" r="1.29" fill="#d8b4b4" opacity="0.53"/>
<circle cx="244.9" cy="175.8" r="1.50" fill="#d8b4b4" opacity="0.74"/>
<ellipse cx="264" cy="165" rx="4" ry="3" fill="#dcc0c0" opacity="0.8"/>
<ellipse cx="270" cy="159" rx="2.5" ry="2" fill="#e0c8c8" opacity="0.7"/>
</g></g>
</g>
<g filter="url(#bl04)"><rect x="296.9" y="138.2" width="57.1" height="58.0" fill="#6a6e6e"/>
<rect x="296.9" y="138.2" width="57.1" height="58.0" fill="#a8acac" filter="url(#tex2)" opacity="0.6"/>
<rect x="306.30" y="150.60" width="37.70" height="37.20" fill="#646868"/>
<rect x="306.3" y="150.6" width="37.69999999999999" height="37.20000000000002" fill="#7c8080" filter="url(#tex)" opacity="0.4"/>
<rect x="304.70" y="138.20" width="3.20" height="58.00" fill="#b8bcbc"/>
<rect x="342.40" y="138.20" width="3.20" height="58.00" fill="#b8bcbc"/>
<rect x="296.90" y="149.10" width="57.10" height="3.00" fill="#b8bcbc"/>
<rect x="296.90" y="186.30" width="57.10" height="3.00" fill="#b8bcbc"/>
<clipPath id="sp2"><path d="M309.5 179.3 L314.3 179.9 L320.2 174.5 L327.4 169.2 L334.5 166.8 L339.3 161.4 L342.3 154.3 L341.7 149.5 L336.9 146.5 L331.0 147.1 L328.0 150.1 L323.8 154.3 L319.0 159.0 L314.3 163.8 L310.7 169.8 L308.9 175.7 Z"/></clipPath>
<path d="M309.5 179.3 L314.3 179.9 L320.2 174.5 L327.4 169.2 L334.5 166.8 L339.3 161.4 L342.3 154.3 L341.7 149.5 L336.9 146.5 L331.0 147.1 L328.0 150.1 L323.8 154.3 L319.0 159.0 L314.3 163.8 L310.7 169.8 L308.9 175.7 Z" fill="#2a2c2c" opacity="0.5" transform="translate(1.0,1.6)" filter="url(#bl1)"/>
<path d="M309.5 179.3 L314.3 179.9 L320.2 174.5 L327.4 169.2 L334.5 166.8 L339.3 161.4 L342.3 154.3 L341.7 149.5 L336.9 146.5 L331.0 147.1 L328.0 150.1 L323.8 154.3 L319.0 159.0 L314.3 163.8 L310.7 169.8 L308.9 175.7 Z" fill="#9a4434" stroke="#9a4434" stroke-width="1.6" stroke-linejoin="round"/>
<g clip-path="url(#sp2)"><g filter="url(#bl05)">
<circle cx="309.3" cy="150.3" r="1.41" fill="#74302a" opacity="0.51"/>
<circle cx="312.7" cy="154.2" r="1.88" fill="#b8604a" opacity="0.75"/>
<circle cx="331.0" cy="151.1" r="1.60" fill="#b8604a" opacity="0.62"/>
<circle cx="342.2" cy="149.6" r="0.93" fill="#74302a" opacity="0.61"/>
<circle cx="315.5" cy="157.5" r="1.37" fill="#74302a" opacity="0.53"/>
<circle cx="316.1" cy="166.0" r="1.61" fill="#74302a" opacity="0.79"/>
<circle cx="320.8" cy="153.3" r="1.99" fill="#74302a" opacity="0.46"/>
<circle cx="333.5" cy="175.5" r="1.75" fill="#b8604a" opacity="0.77"/>
<circle cx="333.3" cy="153.0" r="1.73" fill="#b8604a" opacity="0.47"/>
<circle cx="320.1" cy="157.7" r="1.42" fill="#74302a" opacity="0.78"/>
<circle cx="341.0" cy="179.1" r="2.19" fill="#74302a" opacity="0.57"/>
<circle cx="314.8" cy="167.3" r="1.61" fill="#74302a" opacity="0.49"/>
<circle cx="315.3" cy="177.3" r="1.68" fill="#74302a" opacity="0.49"/>
<circle cx="322.2" cy="176.9" r="1.74" fill="#74302a" opacity="0.53"/>
<circle cx="324.1" cy="173.2" r="1.48" fill="#74302a" opacity="0.67"/>
<circle cx="312.8" cy="149.8" r="2.18" fill="#b8604a" opacity="0.53"/>
<circle cx="320.1" cy="170.3" r="2.01" fill="#b8604a" opacity="0.65"/>
<circle cx="335.2" cy="155.8" r="1.38" fill="#74302a" opacity="0.70"/>
<circle cx="310.2" cy="150.2" r="1.08" fill="#74302a" opacity="0.73"/>
<circle cx="341.4" cy="172.1" r="1.23" fill="#74302a" opacity="0.84"/>
<circle cx="320.5" cy="146.9" r="1.39" fill="#b8604a" opacity="0.52"/>
<circle cx="310.4" cy="150.7" r="2.02" fill="#b8604a" opacity="0.70"/>
<circle cx="315.8" cy="153.0" r="1.97" fill="#b8604a" opacity="0.52"/>
<circle cx="324.1" cy="169.7" r="1.58" fill="#74302a" opacity="0.61"/>
<circle cx="326.4" cy="170.5" r="1.50" fill="#74302a" opacity="0.64"/>
<circle cx="313.4" cy="150.6" r="1.92" fill="#74302a" opacity="0.83"/>
<circle cx="332.0" cy="165.9" r="1.12" fill="#74302a" opacity="0.50"/>
<circle cx="323.1" cy="151.2" r="1.39" fill="#b8604a" opacity="0.62"/>
<circle cx="332.7" cy="164.6" r="1.22" fill="#74302a" opacity="0.74"/>
<circle cx="336.5" cy="147.6" r="1.70" fill="#74302a" opacity="0.55"/>
<circle cx="315.7" cy="173.7" r="1.37" fill="#b8604a" opacity="0.78"/>
<circle cx="321.7" cy="153.1" r="1.18" fill="#b8604a" opacity="0.73"/>
<circle cx="321.2" cy="172.3" r="0.99" fill="#b8604a" opacity="0.70"/>
<circle cx="324.9" cy="163.2" r="2.12" fill="#b8604a" opacity="0.52"/>
<circle cx="310.0" cy="162.6" r="1.29" fill="#b8604a" opacity="0.45"/>
<circle cx="308.9" cy="159.2" r="1.88" fill="#b8604a" opacity="0.82"/>
<circle cx="328.3" cy="160.0" r="1.91" fill="#b8604a" opacity="0.69"/>
<circle cx="337.2" cy="164.6" r="1.32" fill="#b8604a" opacity="0.68"/>
<circle cx="315.2" cy="159.0" r="1.61" fill="#74302a" opacity="0.72"/>
<circle cx="326.2" cy="175.2" r="1.30" fill="#b8604a" opacity="0.72"/>
<ellipse cx="335" cy="155" rx="6" ry="7" fill="#c88a78" opacity="0.6"/>
<ellipse cx="337" cy="151" rx="4" ry="3" fill="#e0b4a4" opacity="0.8"/>
<ellipse cx="331" cy="158" rx="1.0" ry="4" fill="#e8ccc0" opacity="0.7"/>
</g></g>
</g>
<g filter="url(#bl04)"><rect x="172.8" y="198.6" width="57.3" height="58.0" fill="#6a6e6e"/>
<rect x="172.8" y="198.6" width="57.3" height="58.0" fill="#a8acac" filter="url(#tex2)" opacity="0.6"/>
<rect x="184.00" y="209.60" width="37.90" height="37.20" fill="#646868"/>
<rect x="184.0" y="209.6" width="37.900000000000006" height="37.20000000000002" fill="#7c8080" filter="url(#tex)" opacity="0.4"/>
<rect x="182.40" y="198.60" width="3.20" height="58.00" fill="#b8bcbc"/>
<rect x="220.30" y="198.60" width="3.20" height="58.00" fill="#b8bcbc"/>
<rect x="172.80" y="208.10" width="57.30" height="3.00" fill="#b8bcbc"/>
<rect x="172.80" y="245.30" width="57.30" height="3.00" fill="#b8bcbc"/>
<clipPath id="sp3"><path d="M189.1 239.4 L191.3 242.3 L194.9 241.6 L200.6 236.6 L207.7 230.9 L214.9 225.1 L219.1 221.6 L219.9 218.0 L217.7 214.4 L213.4 212.3 L206.3 213.7 L199.1 218.0 L193.4 223.7 L189.9 230.9 L188.4 235.9 Z"/></clipPath>
<path d="M189.1 239.4 L191.3 242.3 L194.9 241.6 L200.6 236.6 L207.7 230.9 L214.9 225.1 L219.1 221.6 L219.9 218.0 L217.7 214.4 L213.4 212.3 L206.3 213.7 L199.1 218.0 L193.4 223.7 L189.9 230.9 L188.4 235.9 Z" fill="#2a2c2c" opacity="0.5" transform="translate(1.0,1.6)" filter="url(#bl1)"/>
<path d="M189.1 239.4 L191.3 242.3 L194.9 241.6 L200.6 236.6 L207.7 230.9 L214.9 225.1 L219.1 221.6 L219.9 218.0 L217.7 214.4 L213.4 212.3 L206.3 213.7 L199.1 218.0 L193.4 223.7 L189.9 230.9 L188.4 235.9 Z" fill="#9c5854" stroke="#9c5854" stroke-width="1.6" stroke-linejoin="round"/>
<g clip-path="url(#sp3)"><g filter="url(#bl05)">
<circle cx="201.3" cy="228.6" r="2.02" fill="#c89a98" opacity="0.54"/>
<circle cx="189.3" cy="215.8" r="0.91" fill="#c89a98" opacity="0.66"/>
<circle cx="219.6" cy="233.1" r="1.39" fill="#c89a98" opacity="0.73"/>
<circle cx="198.7" cy="214.5" r="1.99" fill="#743e3c" opacity="0.49"/>
<circle cx="190.6" cy="215.1" r="2.15" fill="#c89a98" opacity="0.70"/>
<circle cx="218.9" cy="213.4" r="1.40" fill="#c89a98" opacity="0.82"/>
<circle cx="194.3" cy="220.1" r="1.22" fill="#c89a98" opacity="0.72"/>
<circle cx="214.1" cy="225.4" r="0.95" fill="#743e3c" opacity="0.74"/>
<circle cx="209.0" cy="222.2" r="1.98" fill="#743e3c" opacity="0.69"/>
<circle cx="205.4" cy="219.3" r="1.49" fill="#743e3c" opacity="0.72"/>
<circle cx="199.3" cy="236.9" r="1.99" fill="#c89a98" opacity="0.51"/>
<circle cx="195.4" cy="212.7" r="1.88" fill="#743e3c" opacity="0.67"/>
<circle cx="219.7" cy="223.0" r="1.16" fill="#c89a98" opacity="0.59"/>
<circle cx="214.8" cy="230.5" r="0.98" fill="#c89a98" opacity="0.47"/>
<circle cx="208.0" cy="216.0" r="1.13" fill="#743e3c" opacity="0.78"/>
<circle cx="207.9" cy="221.1" r="1.74" fill="#c89a98" opacity="0.45"/>
<circle cx="197.0" cy="232.9" r="1.71" fill="#c89a98" opacity="0.79"/>
<circle cx="214.6" cy="220.7" r="2.15" fill="#c89a98" opacity="0.48"/>
<circle cx="204.5" cy="238.2" r="1.68" fill="#c89a98" opacity="0.65"/>
<circle cx="197.4" cy="221.3" r="1.42" fill="#c89a98" opacity="0.83"/>
<circle cx="190.7" cy="219.9" r="2.13" fill="#743e3c" opacity="0.48"/>
<circle cx="202.3" cy="231.8" r="2.09" fill="#c89a98" opacity="0.81"/>
<circle cx="212.7" cy="220.7" r="1.59" fill="#743e3c" opacity="0.55"/>
<circle cx="210.5" cy="229.1" r="0.99" fill="#c89a98" opacity="0.61"/>
<circle cx="192.8" cy="240.6" r="1.23" fill="#c89a98" opacity="0.69"/>
<circle cx="205.0" cy="221.9" r="1.32" fill="#c89a98" opacity="0.81"/>
<circle cx="190.9" cy="239.7" r="2.12" fill="#743e3c" opacity="0.77"/>
<circle cx="200.4" cy="241.2" r="1.87" fill="#743e3c" opacity="0.63"/>
<circle cx="195.4" cy="233.0" r="1.86" fill="#c89a98" opacity="0.57"/>
<circle cx="205.3" cy="218.7" r="1.07" fill="#c89a98" opacity="0.46"/>
<circle cx="192.2" cy="224.0" r="1.55" fill="#743e3c" opacity="0.57"/>
<circle cx="192.4" cy="239.9" r="1.72" fill="#743e3c" opacity="0.73"/>
<circle cx="198.5" cy="230.1" r="1.31" fill="#743e3c" opacity="0.78"/>
<circle cx="188.9" cy="236.2" r="1.05" fill="#c89a98" opacity="0.48"/>
<circle cx="206.1" cy="238.0" r="2.10" fill="#c89a98" opacity="0.62"/>
<circle cx="218.1" cy="238.9" r="1.97" fill="#c89a98" opacity="0.56"/>
<circle cx="193.1" cy="220.2" r="1.43" fill="#743e3c" opacity="0.71"/>
<circle cx="193.8" cy="217.7" r="1.49" fill="#743e3c" opacity="0.64"/>
<circle cx="213.3" cy="233.0" r="2.04" fill="#c89a98" opacity="0.60"/>
<circle cx="202.8" cy="236.4" r="1.26" fill="#c89a98" opacity="0.78"/>
<circle cx="203.5" cy="231.5" r="1.13" fill="#c89a98" opacity="0.54"/>
<circle cx="201.9" cy="213.3" r="1.25" fill="#743e3c" opacity="0.62"/>
<circle cx="188.5" cy="236.4" r="1.29" fill="#c89a98" opacity="0.71"/>
<circle cx="209.3" cy="222.0" r="1.82" fill="#743e3c" opacity="0.59"/>
<circle cx="204.1" cy="212.5" r="1.67" fill="#c89a98" opacity="0.71"/>
<ellipse cx="212" cy="218" rx="5" ry="3" fill="#b88888" opacity="0.7"/>
<ellipse cx="196" cy="230" rx="1.2" ry="1.2" fill="#e8d0c8" opacity="0.9"/>
<ellipse cx="202" cy="226" rx="1.2" ry="1.2" fill="#e8d0c8" opacity="0.9"/>
<ellipse cx="190" cy="236" rx="1.2" ry="1.2" fill="#e8d0c8" opacity="0.9"/>
<ellipse cx="207" cy="223" rx="1.0" ry="1.0" fill="#e8d0c8" opacity="0.9"/>
</g></g>
</g>
<g filter="url(#bl04)"><rect x="234.9" y="198.6" width="57.0" height="58.0" fill="#6a6e6e"/>
<rect x="234.9" y="198.6" width="57.0" height="58.0" fill="#a8acac" filter="url(#tex2)" opacity="0.6"/>
<rect x="244.50" y="210.30" width="38.00" height="37.20" fill="#646868"/>
<rect x="244.5" y="210.3" width="38.0" height="37.19999999999999" fill="#7c8080" filter="url(#tex)" opacity="0.4"/>
<rect x="242.90" y="198.60" width="3.20" height="58.00" fill="#b8bcbc"/>
<rect x="280.90" y="198.60" width="3.20" height="58.00" fill="#b8bcbc"/>
<rect x="234.90" y="208.80" width="57.00" height="3.00" fill="#b8bcbc"/>
<rect x="234.90" y="246.00" width="57.00" height="3.00" fill="#b8bcbc"/>
<clipPath id="sp4"><path d="M253.3 240.1 L254.7 243.7 L259.7 245.0 L265.4 243.5 L272.6 238.0 L279.0 230.9 L283.3 222.3 L285.4 215.1 L284.7 210.9 L281.1 208.7 L276.1 211.6 L273.3 216.6 L269.0 222.3 L262.6 228.7 L256.9 234.4 Z"/></clipPath>
<path d="M253.3 240.1 L254.7 243.7 L259.7 245.0 L265.4 243.5 L272.6 238.0 L279.0 230.9 L283.3 222.3 L285.4 215.1 L284.7 210.9 L281.1 208.7 L276.1 211.6 L273.3 216.6 L269.0 222.3 L262.6 228.7 L256.9 234.4 Z" fill="#2a2c2c" opacity="0.5" transform="translate(1.0,1.6)" filter="url(#bl1)"/>
<path d="M253.3 240.1 L254.7 243.7 L259.7 245.0 L265.4 243.5 L272.6 238.0 L279.0 230.9 L283.3 222.3 L285.4 215.1 L284.7 210.9 L281.1 208.7 L276.1 211.6 L273.3 216.6 L269.0 222.3 L262.6 228.7 L256.9 234.4 Z" fill="#a04a30" stroke="#a04a30" stroke-width="1.6" stroke-linejoin="round"/>
<g clip-path="url(#sp4)"><g filter="url(#bl05)">
<circle cx="254.7" cy="230.1" r="0.93" fill="#b86244" opacity="0.84"/>
<circle cx="262.6" cy="244.1" r="1.73" fill="#783420" opacity="0.46"/>
<circle cx="276.9" cy="227.5" r="1.69" fill="#b86244" opacity="0.84"/>
<circle cx="274.3" cy="235.0" r="1.79" fill="#b86244" opacity="0.78"/>
<circle cx="273.1" cy="229.2" r="1.08" fill="#b86244" opacity="0.51"/>
<circle cx="272.1" cy="224.2" r="1.89" fill="#b86244" opacity="0.60"/>
<circle cx="269.9" cy="216.7" r="2.18" fill="#783420" opacity="0.61"/>
<circle cx="260.3" cy="224.9" r="1.73" fill="#b86244" opacity="0.83"/>
<circle cx="254.9" cy="221.1" r="1.57" fill="#b86244" opacity="0.64"/>
<circle cx="271.7" cy="219.7" r="2.19" fill="#b86244" opacity="0.60"/>
<circle cx="272.4" cy="218.3" r="1.51" fill="#b86244" opacity="0.47"/>
<circle cx="275.3" cy="218.8" r="1.11" fill="#b86244" opacity="0.62"/>
<circle cx="258.0" cy="233.9" r="1.84" fill="#783420" opacity="0.47"/>
<circle cx="263.4" cy="233.1" r="2.00" fill="#b86244" opacity="0.80"/>
<circle cx="254.6" cy="228.6" r="0.93" fill="#b86244" opacity="0.74"/>
<circle cx="267.6" cy="241.8" r="2.12" fill="#b86244" opacity="0.66"/>
<circle cx="265.4" cy="214.7" r="1.44" fill="#783420" opacity="0.61"/>
<circle cx="279.1" cy="213.6" r="1.04" fill="#783420" opacity="0.54"/>
<circle cx="257.9" cy="240.9" r="1.88" fill="#783420" opacity="0.80"/>
<circle cx="257.2" cy="229.6" r="1.74" fill="#b86244" opacity="0.69"/>
<circle cx="264.7" cy="220.3" r="1.41" fill="#b86244" opacity="0.52"/>
<circle cx="277.0" cy="222.1" r="1.42" fill="#b86244" opacity="0.68"/>
<circle cx="284.2" cy="240.9" r="1.57" fill="#b86244" opacity="0.48"/>
<circle cx="280.5" cy="209.0" r="1.25" fill="#b86244" opacity="0.45"/>
<circle cx="273.8" cy="241.0" r="1.76" fill="#783420" opacity="0.74"/>
<circle cx="273.6" cy="209.1" r="0.94" fill="#783420" opacity="0.75"/>
<circle cx="279.9" cy="235.3" r="1.21" fill="#b86244" opacity="0.67"/>
<circle cx="254.7" cy="232.8" r="1.30" fill="#783420" opacity="0.75"/>
<circle cx="283.6" cy="227.5" r="1.52" fill="#b86244" opacity="0.55"/>
<circle cx="254.8" cy="243.8" r="1.09" fill="#783420" opacity="0.46"/>
</g></g>
</g>
<g filter="url(#bl04)"><rect x="296.9" y="198.6" width="57.1" height="58.0" fill="#6a6e6e"/>
<rect x="296.9" y="198.6" width="57.1" height="58.0" fill="#a8acac" filter="url(#tex2)" opacity="0.6"/>
<rect x="307.00" y="210.60" width="38.20" height="36.70" fill="#646868"/>
<rect x="307.0" y="210.6" width="38.19999999999999" height="36.70000000000002" fill="#7c8080" filter="url(#tex)" opacity="0.4"/>
<rect x="305.40" y="198.60" width="3.20" height="58.00" fill="#b8bcbc"/>
<rect x="343.60" y="198.60" width="3.20" height="58.00" fill="#b8bcbc"/>
<rect x="296.90" y="209.10" width="57.10" height="3.00" fill="#b8bcbc"/>
<rect x="296.90" y="245.80" width="57.10" height="3.00" fill="#b8bcbc"/>
<clipPath id="sp5"><path d="M309.7 234.1 L310.3 238.9 L315.1 241.3 L322.2 240.1 L329.4 236.5 L334.1 231.8 L337.1 225.8 L338.9 219.9 L339.9 213.9 L338.9 211.5 L337.1 212.1 L334.1 216.3 L331.2 222.2 L327.0 227.6 L321.0 231.2 L315.1 231.8 L311.5 232.4 Z"/></clipPath>
<path d="M309.7 234.1 L310.3 238.9 L315.1 241.3 L322.2 240.1 L329.4 236.5 L334.1 231.8 L337.1 225.8 L338.9 219.9 L339.9 213.9 L338.9 211.5 L337.1 212.1 L334.1 216.3 L331.2 222.2 L327.0 227.6 L321.0 231.2 L315.1 231.8 L311.5 232.4 Z" fill="#2a2c2c" opacity="0.5" transform="translate(1.0,1.6)" filter="url(#bl1)"/>
<path d="M309.7 234.1 L310.3 238.9 L315.1 241.3 L322.2 240.1 L329.4 236.5 L334.1 231.8 L337.1 225.8 L338.9 219.9 L339.9 213.9 L338.9 211.5 L337.1 212.1 L334.1 216.3 L331.2 222.2 L327.0 227.6 L321.0 231.2 L315.1 231.8 L311.5 232.4 Z" fill="#8c4232" stroke="#8c4232" stroke-width="1.6" stroke-linejoin="round"/>
<g clip-path="url(#sp5)"><g filter="url(#bl05)">
<circle cx="337.2" cy="220.3" r="1.50" fill="#b06050" opacity="0.85"/>
<circle cx="314.4" cy="231.6" r="1.68" fill="#602a22" opacity="0.61"/>
<circle cx="321.2" cy="223.4" r="0.99" fill="#b06050" opacity="0.56"/>
<circle cx="333.3" cy="224.8" r="1.03" fill="#b06050" opacity="0.59"/>
<circle cx="339.4" cy="212.3" r="1.49" fill="#602a22" opacity="0.50"/>
<circle cx="334.0" cy="237.8" r="1.97" fill="#b06050" opacity="0.82"/>
<circle cx="316.6" cy="235.3" r="1.94" fill="#b06050" opacity="0.75"/>
<circle cx="333.0" cy="235.4" r="1.30" fill="#602a22" opacity="0.70"/>
<circle cx="320.5" cy="215.1" r="1.99" fill="#602a22" opacity="0.80"/>
<circle cx="329.6" cy="233.2" r="1.41" fill="#b06050" opacity="0.82"/>
<circle cx="333.0" cy="227.8" r="2.04" fill="#b06050" opacity="0.49"/>
<circle cx="317.9" cy="238.3" r="1.36" fill="#b06050" opacity="0.52"/>
<circle cx="313.2" cy="238.2" r="2.17" fill="#b06050" opacity="0.72"/>
<circle cx="316.3" cy="236.9" r="1.24" fill="#602a22" opacity="0.47"/>
<circle cx="327.0" cy="224.2" r="1.07" fill="#602a22" opacity="0.64"/>
<circle cx="332.0" cy="217.1" r="1.31" fill="#602a22" opacity="0.66"/>
<circle cx="338.9" cy="231.9" r="2.18" fill="#b06050" opacity="0.66"/>
<circle cx="337.1" cy="212.9" r="1.60" fill="#b06050" opacity="0.54"/>
<circle cx="322.4" cy="218.9" r="1.00" fill="#b06050" opacity="0.72"/>
<circle cx="336.0" cy="229.5" r="1.34" fill="#602a22" opacity="0.46"/>
<ellipse cx="315" cy="236" rx="5" ry="4" fill="#b05858" opacity="0.85"/>
<ellipse cx="337" cy="216" rx="2.2" ry="4" fill="#3a2a22" opacity="0.9"/>
<ellipse cx="325" cy="234" rx="1.0" ry="1.0" fill="#d0a090" opacity="0.8"/>
</g></g>
</g>
<text x="382.60" y="146.40" font-size="12" text-anchor="start" font-weight="bold" fill="#111">F</text>
<text transform="translate(409.60,206.75) rotate(-90)" font-size="7.55" text-anchor="middle" font-weight="bold" fill="#111" textLength="107.30" lengthAdjust="spacingAndGlyphs">microscopic colonies / spleen</text>
<text x="421.40" y="238.23" font-size="7.4" text-anchor="end" font-weight="bold" fill="#111">5</text>
<line x1="424.60" y1="235.63" x2="426.70" y2="235.63" stroke="#111" stroke-width="1.0"/>
<text x="421.40" y="223.56" font-size="7.4" text-anchor="end" font-weight="bold" fill="#111">10</text>
<line x1="424.60" y1="220.96" x2="426.70" y2="220.96" stroke="#111" stroke-width="1.0"/>
<text x="421.40" y="208.89" font-size="7.4" text-anchor="end" font-weight="bold" fill="#111">15</text>
<line x1="424.60" y1="206.29" x2="426.70" y2="206.29" stroke="#111" stroke-width="1.0"/>
<text x="421.40" y="194.22" font-size="7.4" text-anchor="end" font-weight="bold" fill="#111">20</text>
<line x1="424.60" y1="191.62" x2="426.70" y2="191.62" stroke="#111" stroke-width="1.0"/>
<text x="421.40" y="179.55" font-size="7.4" text-anchor="end" font-weight="bold" fill="#111">25</text>
<line x1="424.60" y1="176.95" x2="426.70" y2="176.95" stroke="#111" stroke-width="1.0"/>
<line x1="424.60" y1="162.28" x2="426.70" y2="162.28" stroke="#111" stroke-width="1.0"/>
<line x1="426.70" y1="161.20" x2="426.70" y2="251.20" stroke="#111" stroke-width="1.7"/>
<line x1="424.80" y1="250.50" x2="505.90" y2="250.50" stroke="#111" stroke-width="1.6"/>
<rect x="444.10" y="184.00" width="23.00" height="66.00" fill="#0e0e0e"/>
<line x1="455.90" y1="174.90" x2="455.90" y2="184.00" stroke="#111" stroke-width="1.2"/>
<line x1="455.90" y1="174.90" x2="455.90" y2="174.90" stroke="#111" stroke-width="1.2"/>
<rect x="467.60" y="205.00" width="22.10" height="45.00" fill="#fff" stroke="#111" stroke-width="1.0"/>
<line x1="478.90" y1="194.00" x2="478.90" y2="204.50" stroke="#111" stroke-width="1.0"/>
<line x1="478.90" y1="194.00" x2="478.90" y2="194.00" stroke="#111" stroke-width="1.0"/>
<text x="469.80" y="185.40" font-size="14" text-anchor="middle" font-weight="bold" fill="#111">*</text>
<rect x="471.90" y="157.20" width="7.50" height="5.30" fill="#0e0e0e"/>
<text x="484.00" y="162.00" font-size="7.8" text-anchor="start" font-weight="bold" fill="#111" textLength="15.00" lengthAdjust="spacingAndGlyphs">AES</text>
<rect x="472.40" y="167.70" width="6.90" height="4.60" fill="#fff" stroke="#555" stroke-width="0.9"/>
<text x="484.00" y="172.30" font-size="7.8" text-anchor="start" font-weight="bold" fill="#111" textLength="25.30" lengthAdjust="spacingAndGlyphs">control</text>
<text x="138.20" y="283.40" font-size="12" text-anchor="start" font-weight="bold" fill="#111">H</text>
<text x="209.80" y="381.80" font-size="6.4" text-anchor="end" font-weight="bold" fill="#111" textLength="3.95" lengthAdjust="spacingAndGlyphs">0</text>
<line x1="213.20" y1="379.00" x2="221.00" y2="379.00" stroke="#111" stroke-width="1.2"/>
<text x="209.80" y="365.48" font-size="6.4" text-anchor="end" font-weight="bold" fill="#111" textLength="11.85" lengthAdjust="spacingAndGlyphs">200</text>
<line x1="213.20" y1="362.68" x2="221.00" y2="362.68" stroke="#111" stroke-width="1.2"/>
<text x="209.80" y="349.16" font-size="6.4" text-anchor="end" font-weight="bold" fill="#111" textLength="11.85" lengthAdjust="spacingAndGlyphs">400</text>
<line x1="213.20" y1="346.36" x2="221.00" y2="346.36" stroke="#111" stroke-width="1.2"/>
<text x="209.80" y="332.84" font-size="6.4" text-anchor="end" font-weight="bold" fill="#111" textLength="11.85" lengthAdjust="spacingAndGlyphs">600</text>
<line x1="213.20" y1="330.04" x2="221.00" y2="330.04" stroke="#111" stroke-width="1.2"/>
<text x="209.80" y="316.52" font-size="6.4" text-anchor="end" font-weight="bold" fill="#111" textLength="11.85" lengthAdjust="spacingAndGlyphs">800</text>
<line x1="213.20" y1="313.72" x2="221.00" y2="313.72" stroke="#111" stroke-width="1.2"/>
<text x="211.30" y="300.20" font-size="6.4" text-anchor="end" font-weight="bold" fill="#111" textLength="15.80" lengthAdjust="spacingAndGlyphs">1000</text>
<line x1="213.20" y1="297.40" x2="221.00" y2="297.40" stroke="#111" stroke-width="1.2"/>
<text x="211.30" y="283.88" font-size="6.4" text-anchor="end" font-weight="bold" fill="#111" textLength="15.80" lengthAdjust="spacingAndGlyphs">1200</text>
<line x1="213.20" y1="281.08" x2="221.00" y2="281.08" stroke="#111" stroke-width="1.2"/>
<line x1="220.80" y1="276.10" x2="220.80" y2="384.60" stroke="#111" stroke-width="1.5"/>
<line x1="220.10" y1="383.90" x2="462.30" y2="383.90" stroke="#111" stroke-width="1.5"/>
<line x1="244.60" y1="384.00" x2="244.60" y2="387.50" stroke="#111" stroke-width="1.0"/>
<line x1="278.20" y1="384.00" x2="278.20" y2="387.50" stroke="#111" stroke-width="1.0"/>
<line x1="311.80" y1="384.00" x2="311.80" y2="387.50" stroke="#111" stroke-width="1.0"/>
<line x1="345.90" y1="384.00" x2="345.90" y2="387.50" stroke="#111" stroke-width="1.0"/>
<line x1="379.60" y1="384.00" x2="379.60" y2="387.50" stroke="#111" stroke-width="1.0"/>
<line x1="413.20" y1="384.00" x2="413.20" y2="387.50" stroke="#111" stroke-width="1.0"/>
<line x1="446.90" y1="384.00" x2="446.90" y2="387.50" stroke="#111" stroke-width="1.0"/>
<text x="277.40" y="397.00" font-size="7.0" text-anchor="middle" font-weight="bold" fill="#111">1</text>
<text x="310.60" y="397.00" font-size="7.0" text-anchor="middle" font-weight="bold" fill="#111">2</text>
<text x="345.60" y="397.00" font-size="7.0" text-anchor="middle" font-weight="bold" fill="#111">3</text>
<text x="379.40" y="397.00" font-size="7.0" text-anchor="middle" font-weight="bold" fill="#111">4</text>
<text x="413.00" y="397.00" font-size="7.0" text-anchor="middle" font-weight="bold" fill="#111">5</text>
<text x="446.70" y="397.00" font-size="7.0" text-anchor="middle" font-weight="bold" fill="#111">6</text>
<line x1="276.70" y1="403.80" x2="455.80" y2="403.80" stroke="#111" stroke-width="1.7"/>
<text x="372.00" y="414.70" font-size="7.5" text-anchor="middle" font-weight="bold" fill="#111" textLength="32.00" lengthAdjust="spacingAndGlyphs">replating</text>
<text transform="translate(176.20,329.05) rotate(-90)" font-size="7.66" text-anchor="middle" font-weight="bold" fill="#111" textLength="71.10" lengthAdjust="spacingAndGlyphs">colonies per 1 x 10<tspan dy="-3" font-size="4.8">4</tspan></text>
<text transform="translate(187.70,330.25) rotate(-90)" font-size="7.6" text-anchor="middle" font-weight="bold" fill="#111" textLength="100.30" lengthAdjust="spacingAndGlyphs">AML1/ETO transduced cells</text>
<rect x="224.20" y="280.50" width="7.30" height="5.70" fill="#0e0e0e"/>
<text x="236.00" y="285.90" font-size="7.55" text-anchor="start" font-weight="bold" fill="#111" textLength="34.00" lengthAdjust="spacingAndGlyphs">AES/grg5</text>
<text x="274.00" y="281.60" font-size="5.2" text-anchor="start" font-weight="bold" fill="#111" textLength="9.50" lengthAdjust="spacingAndGlyphs">+/+</text>
<rect x="224.70" y="291.60" width="6.40" height="4.80" fill="#fff" stroke="#111" stroke-width="0.9"/>
<text x="236.00" y="296.30" font-size="7.55" text-anchor="start" font-weight="bold" fill="#111" textLength="34.00" lengthAdjust="spacingAndGlyphs">AES/grg5</text>
<text x="274.20" y="292.40" font-size="5.2" text-anchor="start" font-weight="bold" fill="#111" textLength="6.20" lengthAdjust="spacingAndGlyphs">-/-</text>
<line x1="239.05" y1="365.60" x2="239.05" y2="367.10" stroke="#111" stroke-width="0.9"/>
<line x1="236.85" y1="365.60" x2="241.25" y2="365.60" stroke="#111" stroke-width="0.9"/>
<line x1="239.05" y1="376.60" x2="239.05" y2="378.00" stroke="#111" stroke-width="0.9"/>
<line x1="236.85" y1="378.00" x2="241.25" y2="378.00" stroke="#111" stroke-width="0.9"/>
<rect x="234.30" y="367.10" width="9.50" height="9.50" fill="#0e0e0e"/>
<line x1="235.10" y1="375.20" x2="243.00" y2="375.20" stroke="#fff" stroke-width="1.4"/>
<line x1="250.75" y1="373.80" x2="250.75" y2="374.30" stroke="#111" stroke-width="0.9"/>
<line x1="248.55" y1="373.80" x2="252.95" y2="373.80" stroke="#111" stroke-width="0.9"/>
<line x1="250.75" y1="377.80" x2="250.75" y2="378.00" stroke="#111" stroke-width="0.9"/>
<line x1="248.55" y1="378.00" x2="252.95" y2="378.00" stroke="#111" stroke-width="0.9"/>
<rect x="246.45" y="374.30" width="8.60" height="3.50" fill="#fff" stroke="#111" stroke-width="0.9"/>
<line x1="246.50" y1="376.00" x2="255.00" y2="376.00" stroke="#111" stroke-width="1.0"/>
<line x1="272.95" y1="347.50" x2="272.95" y2="352.90" stroke="#111" stroke-width="0.9"/>
<line x1="270.75" y1="347.50" x2="275.15" y2="347.50" stroke="#111" stroke-width="0.9"/>
<line x1="272.95" y1="362.50" x2="272.95" y2="363.20" stroke="#111" stroke-width="0.9"/>
<line x1="270.75" y1="363.20" x2="275.15" y2="363.20" stroke="#111" stroke-width="0.9"/>
<rect x="267.80" y="352.90" width="10.30" height="9.60" fill="#0e0e0e"/>
<line x1="268.60" y1="356.00" x2="277.30" y2="356.00" stroke="#fff" stroke-width="1.4"/>
<line x1="284.25" y1="286.00" x2="284.25" y2="305.30" stroke="#111" stroke-width="0.9"/>
<line x1="282.05" y1="286.00" x2="286.45" y2="286.00" stroke="#111" stroke-width="0.9"/>
<line x1="284.25" y1="350.70" x2="284.25" y2="353.90" stroke="#111" stroke-width="0.9"/>
<line x1="282.05" y1="353.90" x2="286.45" y2="353.90" stroke="#111" stroke-width="0.9"/>
<rect x="279.55" y="305.30" width="9.40" height="45.40" fill="#fff" stroke="#111" stroke-width="0.9"/>
<line x1="279.60" y1="346.90" x2="288.90" y2="346.90" stroke="#111" stroke-width="1.0"/>
<line x1="306.45" y1="361.20" x2="306.45" y2="363.40" stroke="#111" stroke-width="0.9"/>
<line x1="304.25" y1="361.20" x2="308.65" y2="361.20" stroke="#111" stroke-width="0.9"/>
<line x1="306.45" y1="370.20" x2="306.45" y2="370.80" stroke="#111" stroke-width="0.9"/>
<line x1="304.25" y1="370.80" x2="308.65" y2="370.80" stroke="#111" stroke-width="0.9"/>
<rect x="301.80" y="363.40" width="9.30" height="6.80" fill="#0e0e0e"/>
<line x1="302.60" y1="365.30" x2="310.30" y2="365.30" stroke="#fff" stroke-width="1.4"/>
<line x1="318.05" y1="341.60" x2="318.05" y2="352.60" stroke="#111" stroke-width="0.9"/>
<line x1="315.85" y1="341.60" x2="320.25" y2="341.60" stroke="#111" stroke-width="0.9"/>
<line x1="318.05" y1="365.40" x2="318.05" y2="365.40" stroke="#111" stroke-width="0.9"/>
<line x1="315.85" y1="365.40" x2="320.25" y2="365.40" stroke="#111" stroke-width="0.9"/>
<rect x="313.75" y="352.60" width="8.60" height="12.80" fill="#fff" stroke="#111" stroke-width="0.9"/>
<line x1="313.80" y1="357.30" x2="322.30" y2="357.30" stroke="#111" stroke-width="1.0"/>
<line x1="339.95" y1="342.40" x2="339.95" y2="344.80" stroke="#111" stroke-width="0.9"/>
<line x1="337.75" y1="342.40" x2="342.15" y2="342.40" stroke="#111" stroke-width="0.9"/>
<line x1="339.95" y1="369.00" x2="339.95" y2="372.20" stroke="#111" stroke-width="0.9"/>
<line x1="337.75" y1="372.20" x2="342.15" y2="372.20" stroke="#111" stroke-width="0.9"/>
<rect x="335.20" y="344.80" width="9.50" height="24.20" fill="#0e0e0e"/>
<line x1="336.00" y1="358.80" x2="343.90" y2="358.80" stroke="#fff" stroke-width="1.4"/>
<line x1="351.60" y1="359.40" x2="351.60" y2="362.70" stroke="#111" stroke-width="0.9"/>
<line x1="349.40" y1="359.40" x2="353.80" y2="359.40" stroke="#111" stroke-width="0.9"/>
<line x1="351.60" y1="366.20" x2="351.60" y2="369.60" stroke="#111" stroke-width="0.9"/>
<line x1="349.40" y1="369.60" x2="353.80" y2="369.60" stroke="#111" stroke-width="0.9"/>
<rect x="347.05" y="362.70" width="9.10" height="3.50" fill="#fff" stroke="#111" stroke-width="0.9"/>
<line x1="347.10" y1="364.20" x2="356.10" y2="364.20" stroke="#111" stroke-width="1.0"/>
<line x1="373.95" y1="301.10" x2="373.95" y2="325.40" stroke="#111" stroke-width="0.9"/>
<line x1="371.75" y1="301.10" x2="376.15" y2="301.10" stroke="#111" stroke-width="0.9"/>
<line x1="373.95" y1="370.90" x2="373.95" y2="372.90" stroke="#111" stroke-width="0.9"/>
<line x1="371.75" y1="372.90" x2="376.15" y2="372.90" stroke="#111" stroke-width="0.9"/>
<rect x="369.10" y="325.40" width="9.70" height="45.50" fill="#0e0e0e"/>
<line x1="369.90" y1="349.70" x2="378.00" y2="349.70" stroke="#fff" stroke-width="1.4"/>
<line x1="385.45" y1="339.10" x2="385.45" y2="347.20" stroke="#111" stroke-width="0.9"/>
<line x1="383.25" y1="339.10" x2="387.65" y2="339.10" stroke="#111" stroke-width="0.9"/>
<line x1="385.45" y1="360.20" x2="385.45" y2="362.40" stroke="#111" stroke-width="0.9"/>
<line x1="383.25" y1="362.40" x2="387.65" y2="362.40" stroke="#111" stroke-width="0.9"/>
<rect x="380.65" y="347.20" width="9.60" height="13.00" fill="#fff" stroke="#111" stroke-width="0.9"/>
<line x1="380.70" y1="358.80" x2="390.20" y2="358.80" stroke="#111" stroke-width="1.0"/>
<line x1="407.75" y1="308.20" x2="407.75" y2="317.70" stroke="#111" stroke-width="0.9"/>
<line x1="405.55" y1="308.20" x2="409.95" y2="308.20" stroke="#111" stroke-width="0.9"/>
<line x1="407.75" y1="372.50" x2="407.75" y2="373.70" stroke="#111" stroke-width="0.9"/>
<line x1="405.55" y1="373.70" x2="409.95" y2="373.70" stroke="#111" stroke-width="0.9"/>
<rect x="402.90" y="317.70" width="9.70" height="54.80" fill="#0e0e0e"/>
<line x1="403.70" y1="349.30" x2="411.80" y2="349.30" stroke="#fff" stroke-width="1.4"/>
<line x1="419.45" y1="335.50" x2="419.45" y2="348.20" stroke="#111" stroke-width="0.9"/>
<line x1="417.25" y1="335.50" x2="421.65" y2="335.50" stroke="#111" stroke-width="0.9"/>
<line x1="419.45" y1="375.00" x2="419.45" y2="377.00" stroke="#111" stroke-width="0.9"/>
<line x1="417.25" y1="377.00" x2="421.65" y2="377.00" stroke="#111" stroke-width="0.9"/>
<rect x="414.65" y="348.20" width="9.60" height="26.80" fill="#fff" stroke="#111" stroke-width="0.9"/>
<line x1="414.70" y1="360.40" x2="424.20" y2="360.40" stroke="#111" stroke-width="1.0"/>
<line x1="440.95" y1="351.30" x2="440.95" y2="353.30" stroke="#111" stroke-width="0.9"/>
<line x1="438.75" y1="351.30" x2="443.15" y2="351.30" stroke="#111" stroke-width="0.9"/>
<line x1="440.95" y1="370.40" x2="440.95" y2="371.20" stroke="#111" stroke-width="0.9"/>
<line x1="438.75" y1="371.20" x2="443.15" y2="371.20" stroke="#111" stroke-width="0.9"/>
<rect x="436.20" y="353.30" width="9.50" height="17.10" fill="#0e0e0e"/>
<line x1="437.00" y1="356.10" x2="444.90" y2="356.10" stroke="#fff" stroke-width="1.4"/>
<line x1="452.95" y1="358.80" x2="452.95" y2="363.80" stroke="#111" stroke-width="0.9"/>
<line x1="450.75" y1="358.80" x2="455.15" y2="358.80" stroke="#111" stroke-width="0.9"/>
<line x1="452.95" y1="373.30" x2="452.95" y2="373.60" stroke="#111" stroke-width="0.9"/>
<line x1="450.75" y1="373.60" x2="455.15" y2="373.60" stroke="#111" stroke-width="0.9"/>
<rect x="448.35" y="363.80" width="9.20" height="9.50" fill="#fff" stroke="#111" stroke-width="0.9"/>
<line x1="448.40" y1="369.20" x2="457.50" y2="369.20" stroke="#111" stroke-width="1.0"/>
<circle cx="412.8" cy="309.7" r="1.1" fill="#333"/>
<circle cx="446.5" cy="350.3" r="1.1" fill="#333"/>
</svg>
</body></html>
